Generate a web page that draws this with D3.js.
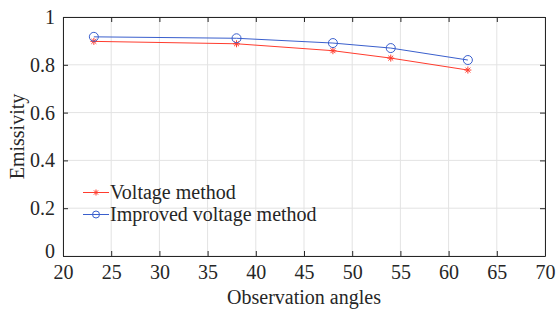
<!DOCTYPE html>
<html>
<head>
<meta charset="utf-8">
<script src="https://cdn.jsdelivr.net/npm/d3@7"></script>
<style>
  body { margin: 0; background: #fff; }
  svg text { font-family: "Liberation Serif", "Times New Roman", serif !important; fill: #262626; }
</style>
</head>
<body>
<div id="chart"></div>
<script>
// data
var angles = [23.2, 38, 48, 54, 62];
var voltage = [0.898, 0.888, 0.859, 0.828, 0.778];
var improved = [0.917, 0.911, 0.891, 0.870, 0.820];
var xTicks = [20, 25, 30, 35, 40, 45, 50, 55, 60, 65, 70];
var yTicks = [0, 0.2, 0.4, 0.6, 0.8, 1];

var width = 556, height = 309,
    margin = {top: 17, right: 11, bottom: 53, left: 63},
    w = width - margin.left - margin.right,
    h = height - margin.top - margin.bottom,
    fs = 20;

var svg = d3.select("#chart").append("svg")
    .attr("width", width)
    .attr("height", height);
var g = svg.append("g")
    .attr("transform", "translate(" + margin.left + "," + margin.top + ")");

var x = d3.scaleLinear().domain([20, 70]).range([0, w]);
var y = d3.scaleLinear().domain([0, 1]).range([h, 0]);

// grid
g.selectAll(".gx").data(xTicks).enter().append("line")
    .attr("x1", x).attr("x2", x).attr("y1", 0).attr("y2", h)
    .attr("stroke", "#e3e3e3").attr("stroke-width", 1);
g.selectAll(".gy").data(yTicks).enter().append("line")
    .attr("y1", y).attr("y2", y).attr("x1", 0).attr("x2", w)
    .attr("stroke", "#e3e3e3").attr("stroke-width", 1);

// axes (ticks inside, box)
var axB = g.append("g").attr("transform", "translate(0," + h + ")")
    .call(d3.axisBottom(x).tickValues(xTicks).tickSizeInner(-5).tickSizeOuter(0).tickPadding(9));
var axT = g.append("g")
    .call(d3.axisTop(x).tickValues(xTicks).tickSizeInner(-5).tickSizeOuter(0).tickFormat(""));
var axL = g.append("g")
    .call(d3.axisLeft(y).tickValues(yTicks).tickSizeInner(-5).tickSizeOuter(0).tickPadding(8).tickFormat(d3.format("~g")));
var axR = g.append("g").attr("transform", "translate(" + w + ",0)")
    .call(d3.axisRight(y).tickValues(yTicks).tickSizeInner(-5).tickSizeOuter(0).tickFormat(""));

[axB, axT, axL, axR].forEach(function(a) {
    a.attr("font-family", null).attr("font-size", null);
    a.select(".domain").attr("stroke", "#262626").attr("stroke-width", 1);
    a.selectAll(".tick line").attr("stroke", "#262626");
    a.selectAll("text").style("font-size", fs + "px").attr("fill", "#262626");
});
axL.selectAll(".tick").filter(function(d) { return d === 0; }).select("text").attr("dy", "0.05em");

// lines
var line = d3.line().x(function(d) { return x(d[0]); }).y(function(d) { return y(d[1]); });
var red = "#ff3c2e", blue = "#3a5fcd";

var vData = angles.map(function(a, i) { return [a, voltage[i]]; });
var iData = angles.map(function(a, i) { return [a, improved[i]]; });

g.append("path").datum(iData).attr("d", line)
    .attr("fill", "none").attr("stroke", blue).attr("stroke-width", 1);
g.append("path").datum(vData).attr("d", line)
    .attr("fill", "none").attr("stroke", red).attr("stroke-width", 1);

function star(sel, cx, cy, r) {
    var s = sel.append("g").attr("transform", "translate(" + cx + "," + cy + ")")
        .attr("stroke", red).attr("stroke-width", 1);
    s.append("line").attr("x1", -r).attr("x2", r);
    s.append("line").attr("y1", -r).attr("y2", r);
    s.append("line").attr("x1", -r * 0.7).attr("x2", r * 0.7).attr("y1", -r * 0.7).attr("y2", r * 0.7);
    s.append("line").attr("x1", -r * 0.7).attr("x2", r * 0.7).attr("y1", r * 0.7).attr("y2", -r * 0.7);
}
vData.forEach(function(d) { star(g, x(d[0]), y(d[1]), 3.5); });
g.selectAll(".pt").data(iData).enter().append("circle")
    .attr("cx", function(d) { return x(d[0]); })
    .attr("cy", function(d) { return y(d[1]); })
    .attr("r", 4.5).attr("fill", "none").attr("stroke", blue).attr("stroke-width", 1);

// legend
var leg = svg.append("g");
leg.append("line").attr("x1", 83).attr("x2", 109).attr("y1", 192.5).attr("y2", 192.5).attr("stroke", red);
star(leg, 96, 192.5, 3);
leg.append("text").attr("x", 110).attr("y", 199).style("font-size", fs + "px").text("Voltage method");
leg.append("line").attr("x1", 83).attr("x2", 109).attr("y1", 214.5).attr("y2", 214.5).attr("stroke", blue);
leg.append("circle").attr("cx", 96).attr("cy", 214.5).attr("r", 3.5).attr("fill", "none").attr("stroke", blue);
leg.append("text").attr("x", 110).attr("y", 221).style("font-size", fs + "px").text("Improved voltage method");

// axis titles
svg.append("text").attr("x", margin.left + w / 2).attr("y", 304)
    .attr("text-anchor", "middle").style("font-size", fs + "px").text("Observation angles");
svg.append("text").attr("transform", "translate(24," + (margin.top + h / 2) + ") rotate(-90)")
    .attr("text-anchor", "middle").style("font-size", fs + "px").text("Emissivity");
</script>
</body>
</html>
